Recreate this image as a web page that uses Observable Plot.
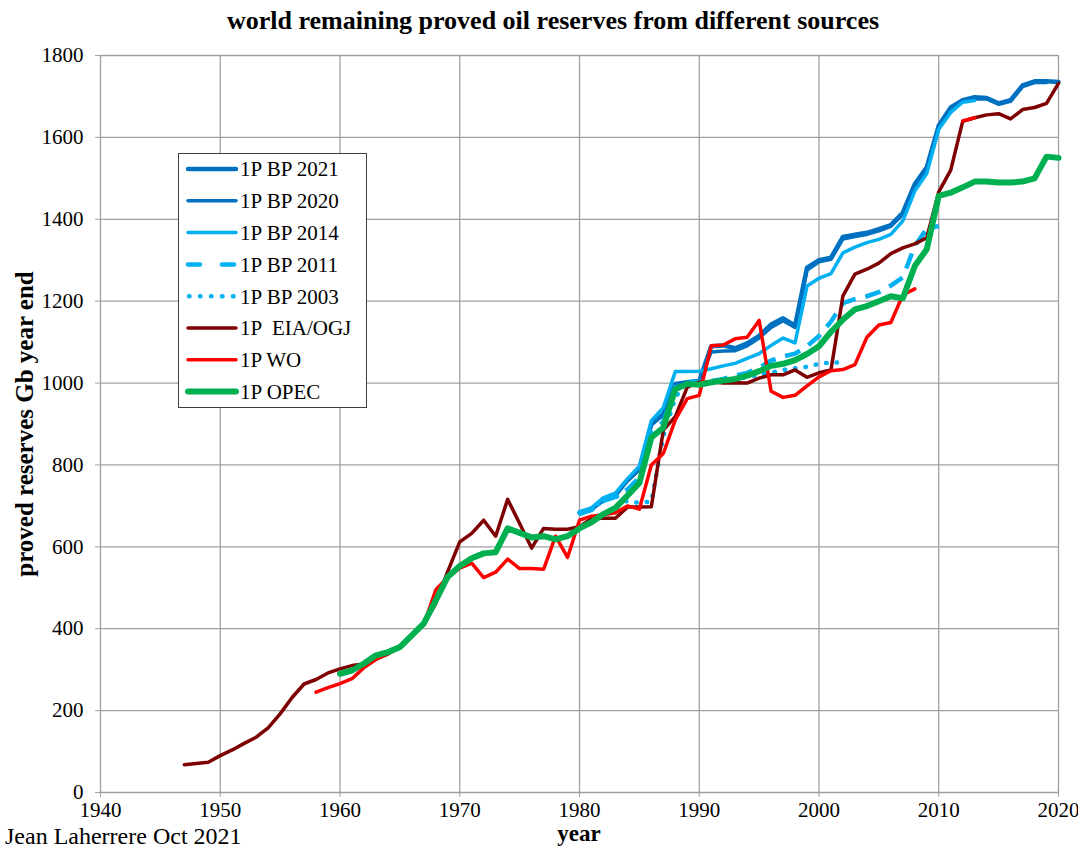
<!DOCTYPE html>
<html><head><meta charset="utf-8">
<script src="https://cdn.jsdelivr.net/npm/d3@7"></script>
<script src="https://cdn.jsdelivr.net/npm/@observablehq/plot@0.6"></script>
<style>
body{margin:0;background:#fff;}
#wrap{position:relative;width:1078px;height:850px;font-family:"Liberation Serif","Times New Roman",serif;color:#000;overflow:hidden;background:#fff}
#wrap svg, #wrap svg text{font-family:"Liberation Serif","Times New Roman",serif !important;}
#title{position:absolute;top:5px;left:0;width:1106px;text-align:center;font-weight:bold;font-size:26px;line-height:32px;}
#chart{position:absolute;top:42px;left:0;}
#ylab{position:absolute;left:25px;top:424px;transform:translate(-50%,-50%) rotate(-90deg);font-weight:bold;font-size:25px;white-space:nowrap;line-height:28px;}
#xlab{position:absolute;left:579px;top:834px;transform:translate(-50%,-50%);font-weight:bold;font-size:23px;line-height:24px;}
#cap{position:absolute;left:5px;top:823px;font-size:24px;line-height:26px;white-space:nowrap;}
#legend{position:absolute;left:178px;top:153px;width:187px;height:253px;border:1.5px solid #404040;background:#fff;}
</style></head><body>
<div id="wrap">
  <div id="title">world remaining proved oil reserves from different sources</div>
  <div id="chart"></div>
  <div id="ylab">proved reserves Gb year end</div>
  <div id="xlab">year</div>
  <div id="cap">Jean Laherrere Oct 2021</div>
  <div id="legend"></div>
</div>
<script>
// ---- data (Gb, year end) ----
const xTicks = [1940, 1950, 1960, 1970, 1980, 1990, 2000, 2010, 2020];
const yTicks = [0, 200, 400, 600, 800, 1000, 1200, 1400, 1600, 1800];

const seriesNames = ["1P BP 2021", "1P BP 2020", "1P BP 2014", "1P BP 2011", "1P BP 2003", "1P  EIA/OGJ", "1P WO", "1P OPEC"];
const seriesStart = [1980, 1980, 1980, 1980, 1980, 1947, 1958, 1960];

const bp2021 = [683, 693, 714, 727, 763, 790, 900, 924, 998, 1002,
  1005, 1090, 1092, 1085, 1097, 1115, 1143, 1158, 1140, 1282,
  1300, 1306, 1357, 1362, 1367, 1376, 1386, 1416, 1486, 1527,
  1629, 1673, 1691, 1698, 1696, 1683, 1691, 1727, 1737, 1737, 1735];
const bp2020 = [683, 692, 713, 726, 761, 789, 898, 922, 997, 1001,
  1004, 1076, 1078, 1079, 1091, 1110, 1136, 1152, 1136, 1276,
  1296, 1302, 1352, 1358, 1363, 1372, 1383, 1412, 1481, 1522,
  1624, 1668, 1688, 1694, 1694, 1681, 1688, 1724, 1734, 1734];
const bp2014 = [686, 695, 720, 731, 766, 797, 908, 940, 1028, 1028,
  1029, 1035, 1042, 1048, 1060, 1072, 1092, 1110, 1098, 1237,
  1256, 1267, 1318, 1332, 1343, 1351, 1363, 1396, 1469, 1512,
  1620, 1661, 1686, 1690];
const bp2011 = [680, 690, 712, 722, 740, 770, 880, 905, 990, 1000,
  1003, 1005, 1010, 1018, 1025, 1037, 1055, 1065, 1072, 1090,
  1115, 1150, 1195, 1205, 1212, 1222, 1238, 1258, 1335, 1376,
  1384];
const bp2003 = [683, 690, 715, 725, 710, 708, 710, 870, 965, 1005,
  1002, 1000, 1003, 1008, 1015, 1020, 1025, 1032, 1036, 1040,
  1047, 1050, 1050];
const eiaOgj = [68, 71, 74,
  90, 104, 120, 135, 158, 192, 232, 265, 276, 292,
  302, 310, 314, 326, 338, 355, 385, 410, 462, 540,
  612, 633, 665, 626, 716, 657, 597, 645, 643, 643,
  649, 669, 670, 670, 697, 697, 698, 885, 918, 990,
  1002, 1003, 1000, 1001, 1000, 1012, 1020, 1020, 1032, 1014,
  1025, 1032, 1213, 1266, 1278, 1293, 1316, 1330, 1340, 1355,
  1467, 1520, 1639, 1648, 1655, 1658, 1645, 1668, 1673, 1683,
  1732];
const wo = [245, 256,
  266, 278, 305, 325, 340, 355, 385, 410, 495, 525,
  548, 560, 525, 538, 570, 547, 547, 545, 626, 574,
  665, 675, 678, 683, 700, 692, 800, 828, 910, 962,
  970, 1091, 1093, 1108, 1112, 1153, 980, 965, 970, 993,
  1015, 1030, 1033, 1045, 1112, 1142, 1148, 1215, 1230, null,
  null, null, 1640, 1648];
const opec = [290, 298, 315, 335, 343, 355, 384, 413, 469, 527,
  553, 572, 584, 587, 645, 634, 623, 626, 618, 626,
  645, 660, 680, 695, 725, 756, 867, 891, 985, 998,
  996, 1002, 1006, 1010, 1018, 1029, 1042, 1047, 1056, 1071,
  1090, 1125, 1155, 1180, 1188, 1200, 1212, 1207, 1286, 1327,
  1457, 1465, 1478, 1492, 1492, 1490, 1490, 1492, 1500, 1553,
  1550];
const seriesValues = [bp2021, bp2020, bp2014, bp2011, bp2003, eiaOgj, wo, opec];

// ---- styles ----
const seriesColor = ["#0070C0", "#0070C0", "#00B0F0", "#00B0F0", "#00B0F0", "#7F0000", "#FF0000", "#00B050"];
const seriesWidth = [4.5, 3.5, 3.5, 4.5, 4.5, 3.5, 3.5, 6];
const seriesDash = [null, null, null, "16,10", "0.5,10", null, null, null];
const seriesCap = ["round", "round", "round", "butt", "round", "round", "round", "round"];

const table = seriesNames.map((name, k) =>
  seriesValues[k].map((v, i) => ({series: name, year: seriesStart[k] + i, value: v})));

const font = '"Liberation Serif","Times New Roman",serif';
const lineMarks = table.map((rows, k) => Plot.line(rows, {
  x: "year", y: "value",
  stroke: seriesColor[k], strokeWidth: seriesWidth[k],
  strokeDasharray: seriesDash[k] || undefined,
  strokeLinecap: seriesCap[k], strokeLinejoin: "round"
}));

const chart = Plot.plot({
  width: 1078, height: 808,
  marginLeft: 100, marginRight: 20, marginTop: 13, marginBottom: 58,
  x: {domain: [1940, 2020]},
  y: {domain: [0, 1800]},
  style: {fontFamily: font, fontSize: "21px", color: "#000", background: "#fff", overflow: "visible"},
  marks: [
    Plot.gridX(xTicks, {stroke: "#a0a0a0", strokeOpacity: 1, strokeWidth: 1.3}),
    Plot.gridY(yTicks, {stroke: "#a0a0a0", strokeOpacity: 1, strokeWidth: 1.3}),
    Plot.axisX({ticks: xTicks, tickSize: 5, tickPadding: 5, tickFormat: d => String(d), label: null, stroke: "#a0a0a0", fill: "#000", fontSize: 21}),
    Plot.axisY({ticks: yTicks, tickSize: 5, tickPadding: 12, tickFormat: d => String(d), label: null, stroke: "#a0a0a0", fill: "#000", fontSize: 21}),
    ...lineMarks
  ]
});
document.getElementById("chart").appendChild(chart);

// ---- legend ----
const ns = "http://www.w3.org/2000/svg";
const lg = document.createElementNS(ns, "svg");
lg.setAttribute("width", 187); lg.setAttribute("height", 253);
seriesNames.forEach((name, k) => {
  const cy = 15 + k * 31.8;
  const ln = document.createElementNS(ns, "line");
  ln.setAttribute("x1", 9); ln.setAttribute("x2", 57);
  ln.setAttribute("y1", cy); ln.setAttribute("y2", cy);
  ln.setAttribute("stroke", seriesColor[k]);
  ln.setAttribute("stroke-width", seriesWidth[k]);
  ln.setAttribute("stroke-linecap", "round");
  if (k === 3) ln.setAttribute("stroke-dasharray", "12,22");
  if (k === 4) { ln.setAttribute("stroke-dasharray", "0.5,10.5"); ln.setAttribute("x1", 10); }
  lg.appendChild(ln);
  const tx = document.createElementNS(ns, "text");
  tx.setAttribute("x", 61); tx.setAttribute("y", cy);
  tx.setAttribute("dy", "0.35em");
  tx.setAttribute("font-size", "21px");
  tx.setAttribute("xml:space", "preserve");
  tx.style.whiteSpace = "pre";
  tx.textContent = name;
  lg.appendChild(tx);
});
document.getElementById("legend").appendChild(lg);
</script>
</body></html>
